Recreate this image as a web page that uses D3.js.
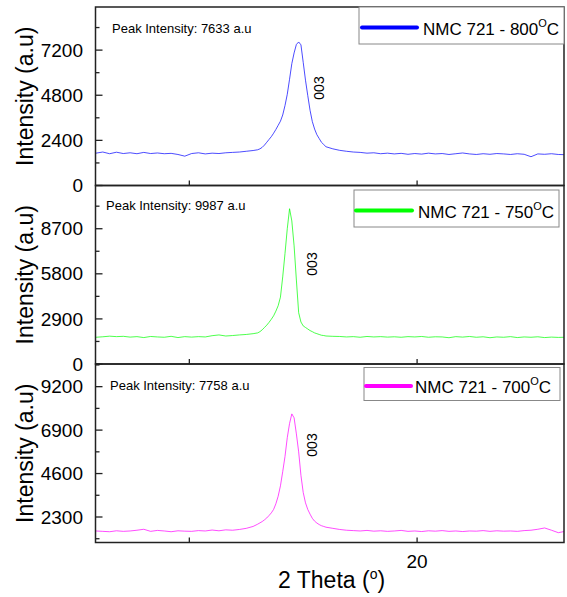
<!DOCTYPE html>
<html>
<head>
<meta charset="utf-8">
<script src="https://cdn.jsdelivr.net/npm/d3@7"></script>
<style>
  body { margin: 0; background: #fff; }
  text { font-family: "Liberation Sans", Arial, sans-serif; fill: #000; }
</style>
</head>
<body>
<svg id="chart" width="567" height="597"></svg>
<script>
// 2 theta grid (deg), shared by the three scans
const theta = [
  5.9, 6.2, 6.5, 6.8, 7.1, 7.4, 7.7, 8.0, 8.3, 8.6, 8.9, 9.2, 9.5, 9.8, 10.1, 10.4, 10.7, 11.0, 11.3, 11.6, 11.9, 12.2, 12.5, 12.8,
  13.0, 13.1, 13.2, 13.3, 13.4, 13.5, 13.6, 13.7, 13.8, 13.9, 14.0, 14.1, 14.2, 14.3, 14.4, 14.5, 14.6, 14.7, 14.8, 14.9,
  15.0, 15.1, 15.2, 15.3, 15.4, 15.5, 15.6, 15.7, 15.8, 15.9, 16.0,
  16.3, 16.6, 16.9, 17.2, 17.5, 17.8, 18.1, 18.4, 18.7, 19.0, 19.3, 19.6, 19.9, 20.2, 20.5, 20.8, 21.1, 21.4, 21.7, 22.0,
  22.3, 22.6, 22.9, 23.2, 23.5, 23.8, 24.1, 24.4, 24.7, 25.0, 25.3, 25.6, 25.9, 26.2, 26.45
];

const int800 = [
  1720, 1780, 1690, 1770, 1700, 1740, 1690, 1760, 1700, 1730, 1690, 1710, 1650, 1560, 1700, 1740, 1680, 1720, 1700, 1740, 1760, 1780, 1820, 1860,
  1900, 1950, 2030, 2150, 2300, 2450, 2600, 2780, 2980, 3200, 3420, 3750, 4250, 4850, 5650, 6480, 7050, 7500, 7633, 7480,
  6550, 5600, 4780, 4000, 3400, 3000, 2700, 2500, 2300, 2180, 2060,
  1950, 1870, 1820, 1780, 1760, 1720, 1740, 1690, 1720, 1680, 1710, 1660, 1700, 1670, 1720, 1680, 1700, 1650, 1690, 1730,
  1680, 1650, 1690, 1660, 1700, 1680, 1650, 1690, 1660, 1530, 1680, 1660, 1690, 1650, 1640
];

const int750 = [
  1720, 1750, 1790, 1760, 1780, 1730, 1760, 1700, 1770, 1740, 1720, 1780, 1700, 1760, 1730, 1760, 1740, 1820, 1870, 1800, 1830, 1870, 1900, 1950,
  2000, 2080, 2200, 2350, 2500, 2680, 2880, 3100, 3400, 3750, 4300, 5600, 7100, 8700, 9987, 9200, 7600, 5400, 3300, 2700,
  2450, 2350, 2250, 2150, 2080, 2000, 1950, 1900, 1850, 1830, 1800,
  1780, 1770, 1740, 1760, 1720, 1770, 1740, 1760, 1730, 1750, 1720, 1760, 1740, 1770, 1720, 1750, 1740, 1690, 1760, 1730,
  1770, 1720, 1750, 1690, 1740, 1720, 1760, 1700, 1740, 1720, 1750, 1700, 1730, 1710, 1720
];

const int700 = [
  1560, 1540, 1520, 1570, 1540, 1560, 1600, 1650, 1540, 1590, 1560, 1520, 1570, 1550, 1540, 1580, 1560, 1610, 1570, 1620, 1600, 1640, 1700, 1800,
  1920, 1990, 2060, 2150, 2250, 2380, 2520, 2700, 3000, 3400, 3950, 4700, 5500, 6500, 7250, 7758, 7550, 6700, 5750, 4500,
  3600, 3050, 2700, 2450, 2230, 2080, 1980, 1900, 1840, 1800, 1760,
  1700, 1640, 1600, 1580, 1560, 1590, 1550, 1570, 1540, 1560, 1590, 1540, 1560, 1530, 1570, 1550, 1580, 1540, 1560, 1530,
  1560, 1550, 1580, 1540, 1570, 1550, 1560, 1540, 1580, 1600, 1650, 1720, 1600, 1470, 1530
];

const seriesNames = ["NMC 721 - 800", "NMC 721 - 750", "NMC 721 - 700"];
const peakNotes = ["Peak Intensity: 7633 a.u", "Peak Intensity: 9987 a.u", "Peak Intensity: 7758 a.u"];
const peakHkl = ["003", "003", "003"];
const yTicks800 = [0, 2400, 4800, 7200];
const yTicks750 = [0, 2900, 5800, 8700];
const yTicks700 = [2300, 4600, 6900, 9200];
const xTicks = [10, 20];
const xTickLabels = ["", "20"];

// ---- layout
const left = 95.5, right = 564;
const panelTops = [7, 185.5, 364];
const panelH = 178.5;

const panels = [
  { y: int800, color: "#0000ff", dom: [0, 9493], ticks: yTicks800, minor: 1200, legend: { x0: 359, y0: 7, w: 205, h: 37, lx: [362, 417], tx: 423 } },
  { y: int750, color: "#00ff00", dom: [0, 11480], ticks: yTicks750, minor: 1450, legend: { x0: 354, y0: 190, w: 205, h: 37, lx: [356, 412], tx: 418 } },
  { y: int700, color: "#ff00ff", dom: [950, 10400], ticks: yTicks700, minor: 1150, legend: { x0: 364, y0: 367.5, w: 196, h: 33, lx: [366, 411], tx: 415 } }
];
const notePos = [[112, 33], [106, 209.5], [110, 389.5]];
const hklPos = [[319, 88], [312, 264], [311.5, 445]];

const svg = d3.select("#chart");

const x = d3.scaleLinear()
  .domain([5.88, 26.45])
  .range([left, right]);

svg.append("defs").append("clipPath").attr("id", "clip")
  .append("rect").attr("x", left).attr("y", 0).attr("width", right - left).attr("height", 597);

panels.forEach((p, i) => {
  const top = panelTops[i];
  const bottom = top + panelH;
  const y = d3.scaleLinear().domain(p.dom).range([bottom, top]);

  const g = svg.append("g");

  // minor y ticks (inward)
  const minors = d3.range(p.dom[0] - (p.dom[0] % p.minor), p.dom[1], p.minor)
    .filter(v => v > p.dom[0] && v < p.dom[1] && !p.ticks.includes(v));
  g.selectAll(".minor").data(minors).enter().append("line")
    .attr("x1", left).attr("x2", left + 4)
    .attr("y1", d => y(d)).attr("y2", d => y(d))
    .attr("stroke", "#222").attr("stroke-width", 1.3);

  // major y ticks + labels
  g.selectAll(".major").data(p.ticks).enter().append("line")
    .attr("x1", left).attr("x2", left + 7)
    .attr("y1", d => y(d)).attr("y2", d => y(d))
    .attr("stroke", "#222").attr("stroke-width", 1.3);
  g.selectAll(".ylab").data(p.ticks).enter().append("text")
    .attr("x", 83).attr("y", d => y(d))
    .attr("dy", "0.35em")
    .attr("text-anchor", "end")
    .style("font-size", "19px")
    .text(d => d);

  // x ticks (inward, pointing up)
  g.selectAll(".xt").data(xTicks).enter().append("line")
    .attr("x1", d => x(d)).attr("x2", d => x(d))
    .attr("y1", bottom).attr("y2", bottom - 5)
    .attr("stroke", "#222").attr("stroke-width", 1.3);

  // the scan
  const line = d3.line()
    .x((d, j) => x(theta[j]))
    .y(d => y(d));
  g.append("path")
    .datum(p.y)
    .attr("clip-path", "url(#clip)")
    .attr("fill", "none")
    .attr("stroke", p.color)
    .attr("stroke-opacity", 0.7)
    .attr("stroke-width", 1)
    .attr("d", line);

  // frame
  g.append("rect")
    .attr("x", left).attr("y", top)
    .attr("width", right - left).attr("height", panelH)
    .attr("fill", "none").attr("stroke", "#222").attr("stroke-width", 1.5);

  // y title
  g.append("text")
    .attr("transform", `translate(33,${top + panelH / 2}) rotate(-90)`)
    .attr("text-anchor", "middle")
    .style("font-size", "23px")
    .text("Intensity (a.u)");

  // notes
  g.append("text")
    .attr("x", notePos[i][0]).attr("y", notePos[i][1])
    .style("font-size", "13px")
    .text(peakNotes[i]);
  g.append("text")
    .attr("transform", `translate(${hklPos[i][0] + 5},${hklPos[i][1]}) rotate(-90)`)
    .attr("text-anchor", "middle")
    .style("font-size", "14px")
    .text(peakHkl[i]);

  // legend
  const L = p.legend;
  g.append("rect")
    .attr("x", L.x0).attr("y", L.y0).attr("width", L.w).attr("height", L.h)
    .attr("fill", "#fff").attr("stroke", "#888").attr("stroke-width", 1);
  const ly = L.y0 + L.h / 2 + 2;
  g.append("line")
    .attr("x1", L.lx[0]).attr("x2", L.lx[1])
    .attr("y1", ly).attr("y2", ly)
    .attr("stroke", p.color).attr("stroke-width", 4).attr("stroke-linecap", "round");
  const t = g.append("text")
    .attr("x", L.tx).attr("y", ly + 7)
    .style("font-size", "17px");
  t.append("tspan").text(seriesNames[i]);
  t.append("tspan").attr("dy", -8).style("font-size", "11px").text("O");
  t.append("tspan").attr("dy", 8).text("C");
});

// x tick labels + axis title
svg.selectAll(".xlab").data(xTicks).enter().append("text")
  .attr("x", d => x(d)).attr("y", 568)
  .attr("text-anchor", "middle")
  .style("font-size", "19px")
  .text((d, i) => xTickLabels[i]);

const xt = svg.append("text")
  .attr("x", 278).attr("y", 588)
  .style("font-size", "23px");
xt.append("tspan").text("2 Theta (");
xt.append("tspan").attr("dy", -9).style("font-size", "14px").text("o");
xt.append("tspan").attr("dy", 9).text(")");
</script>
</body>
</html>
